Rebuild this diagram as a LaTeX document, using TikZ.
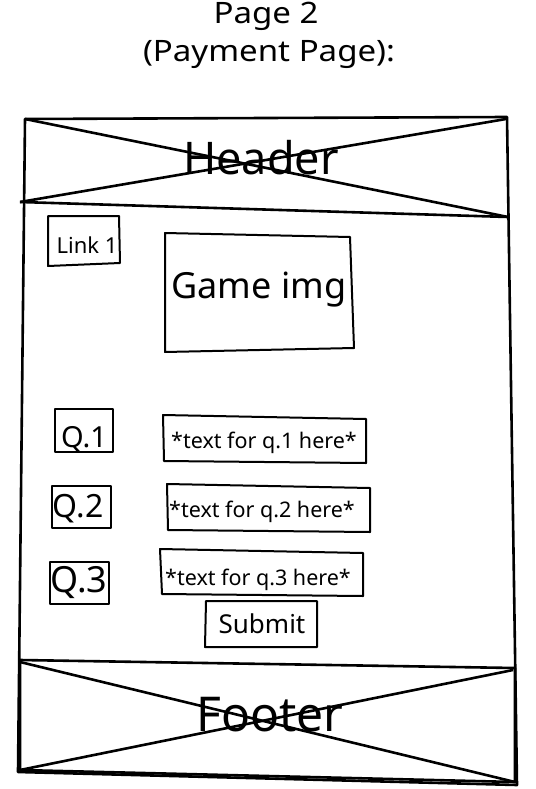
\documentclass[tikz,border=0pt]{standalone}
\usepackage{fontspec}
\setmainfont{Noto Sans}
\newfontfamily\titlefont{Noto Sans}[FakeStretch=1.12]
\begin{document}
\begin{tikzpicture}[x=1pt,y=-1pt]
	% styles
	\tikzstyle{frame} = [draw,line width=2.6pt,line join=round]
	\tikzstyle{box} = [draw,line width=2pt,line join=round]
	\tikzstyle{lbl} = [inner sep=0pt,anchor=base]
	
	% bounding box
	\useasboundingbox (0,0) rectangle (535,789);
	
	% title
	\node[lbl,font=\titlefont\fontsize{29.5}{36}\selectfont] (title) at (266,24) {Page 2};
	\node[lbl,font=\titlefont\fontsize{29.5}{36}\selectfont] (subtitle) at (269,62) {(Payment Page):};
	
	% outer frame
	\path[frame] (25,119) -- (507,117) -- (517,785) -- (18,772) -- cycle;
	
	% header
	\path[frame] (20,202) -- (508,217);
	\path[frame] (25,119) -- (508,217);
	\path[frame] (20,202) -- (506,119);
	\node[lbl,font=\fontsize{45}{50}\selectfont] (header) at (261,174) {Header};
	
	% footer
	\path[frame] (20,660) -- (515,668) -- (515,782) -- (20,770) -- cycle;
	\path[frame] (20,662) -- (515,782);
	\path[frame] (20,770) -- (513,670);
	\node[lbl,font=\fontsize{48}{54}\selectfont] (footer) at (270,731) {Footer};
	
	% link and game image
	\path[box] (48,216) -- (119,216) -- (120,263) -- (48,266) -- cycle;
	\node[lbl,font=\fontsize{22}{26}\selectfont] (link) at (87,253) {Link 1};
	\path[box] (165,233) -- (350,237) -- (354,348) -- (165,352) -- cycle;
	\node[lbl,font=\fontsize{36}{42}\selectfont] (gameimg) at (259,298) {Game img};
	
	% questions
	\path[box] (55,409) -- (113,409) -- (113,452) -- (55,452) -- cycle;
	\node[lbl,font=\fontsize{29}{34}\selectfont] (qa) at (84,447) {Q.1};
	\path[box] (52,486) -- (111,486) -- (111,528) -- (52,528) -- cycle;
	\node[lbl,font=\fontsize{32}{38}\selectfont] (qb) at (78,517) {Q.2};
	\path[box] (50,562) -- (109,562) -- (109,604) -- (50,604) -- cycle;
	\node[lbl,font=\fontsize{36}{42}\selectfont] (qc) at (79,592) {Q.3};
	
	% answer fields
	\path[box] (163,415) -- (366,419) -- (366,463) -- (164,461) -- cycle;
	\node[lbl,font=\fontsize{21.5}{26}\selectfont] (texta) at (264,448) {*text for q.1 here*};
	\path[box] (167,484) -- (370,488) -- (370,532) -- (168,530) -- cycle;
	\node[lbl,font=\fontsize{21.5}{26}\selectfont] (textb) at (262,517) {*text for q.2 here*};
	\path[box] (160,549) -- (363,553) -- (363,596) -- (162,594) -- cycle;
	\node[lbl,font=\fontsize{21.5}{26}\selectfont] (textc) at (258,585) {*text for q.3 here*};
	
	% submit button
	\path[box] (206,601) -- (317,601) -- (317,647) -- (205,647) -- cycle;
	\node[lbl,font=\fontsize{26}{30}\selectfont] (submit) at (262,633) {Submit};
\end{tikzpicture}
\end{document}
